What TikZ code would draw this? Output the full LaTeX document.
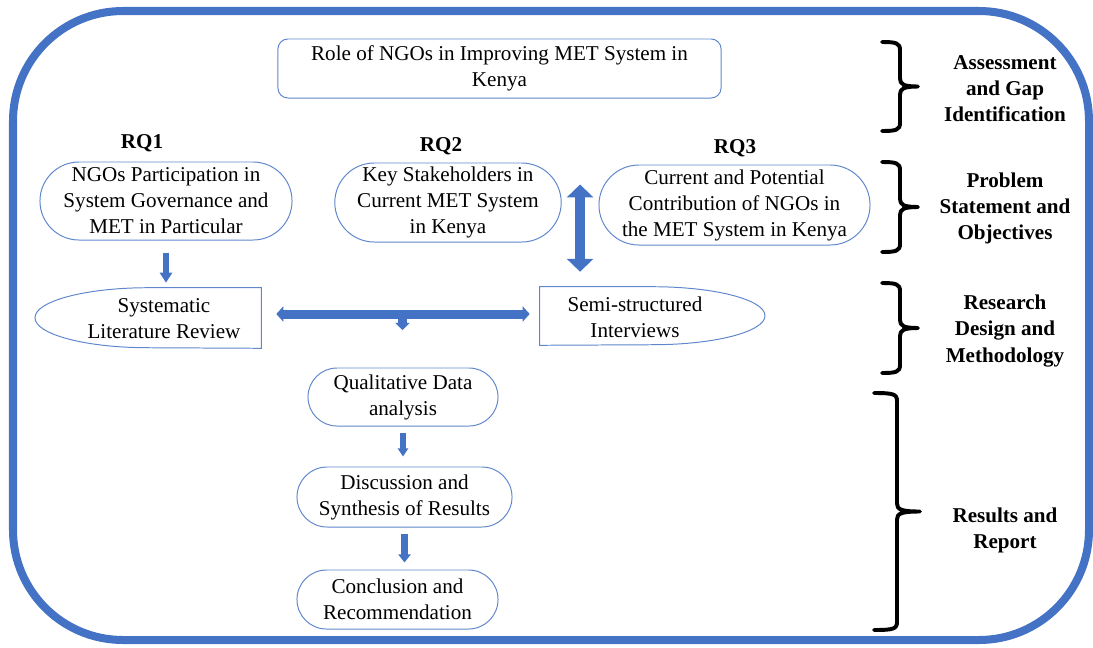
\documentclass[tikz,border=0pt]{standalone}
\usepackage{fontspec}
\setmainfont{Liberation Serif}
\usetikzlibrary{shapes.misc,arrows.meta,calc}
\definecolor{frame blue}{RGB}{68,114,196}
\colorlet{box edge}{frame blue!85}
\colorlet{arrow fill}{frame blue}
\newcommand{\boxfont}{\fontsize{15}{18.5}\selectfont}
% brace: end x, top, bottom, half width
\newcommand{\phasebrace}[4]{%
  \draw[phase line] (#1,#2) .. controls ({#1+#4-4},#2) and ({#1+#4},{#2+1}) .. ({#1+#4},{#2+8})
    -- ({#1+#4},{(#2+#3)/2-8}) .. controls ({#1+#4},{(#2+#3)/2-2}) and ({#1+#4+4},{(#2+#3)/2}) .. ({#1+2*#4},{(#2+#3)/2})
    .. controls ({#1+#4+4},{(#2+#3)/2}) and ({#1+#4},{(#2+#3)/2+2}) .. ({#1+#4},{(#2+#3)/2+8})
    -- ({#1+#4},{#3-8}) .. controls ({#1+#4},{#3-1}) and ({#1+#4-4},#3) .. (#1,#3);}
\tikzset{stadium/.style={rounded rectangle, draw=box edge, line width=0.7pt, inner sep=0pt, align=center, font=\boxfont},
	title box/.style={draw=box edge, line width=0.7pt, rounded corners=0.25cm, inner sep=0pt, align=center, font=\boxfont},
	plain text/.style={inner sep=0pt, align=center, font=\boxfont},
	rq/.style={inner sep=0pt, font=\boxfont\bfseries},
	phase/.style={inner sep=0pt, align=center, font=\boxfont\bfseries},
	phase line/.style={line width=2.8pt, line cap=round, line join=round},
	edge line/.style={draw=box edge, line width=0.7pt},
	outer frame/.style={draw=frame blue, line width=5.7pt, rounded corners=2.75cm},
	oneway/.style n args={3}{draw=arrow fill, line width=#1, -{Triangle[width=#2,length=#3]}},
	twoway/.style n args={3}{draw=arrow fill, line width=#1, {Triangle[width=#2,length=#3]}-{Triangle[width=#2,length=#3]}}}

\begin{document}
\begin{tikzpicture}[x=0.025cm,y=-0.025cm]
	\useasboundingbox (0,0) rectangle (1093,647);
	\draw[outer frame] (13,11) rectangle (1089,640);
	
	\node[title box, minimum width=11.075cm, minimum height=1.475cm] (title) at (499.5,68.5) {Role of NGOs in Improving MET System in\\Kenya};
	
	% research questions
	\node[rq] (rq1) at (142,143) {RQ1};
	\node[rq] (rq2) at (441,146) {RQ2};
	\node[rq] (rq3) at (735,148) {RQ3};
	\node[stadium, minimum width=6.3cm, minimum height=1.95cm] (box1) at (166,201) {NGOs Participation in\\System Governance and\\MET in Particular};
	\node[stadium, minimum width=5.5cm, minimum height=1.975cm] (box2) at (448,202.5) {Key Stakeholders in\\Current MET System\\in Kenya};
	\node[stadium, minimum width=6.775cm, minimum height=2cm] (box3) at (734.5,205) {Current and Potential\\Contribution of NGOs in\\the MET System in Kenya};
	
	% methods
	\node[inner sep=0pt, minimum width=5.65cm, minimum height=1.5cm] (litbox) at (148,318) {};
	\draw[edge line] (litbox.north east) -- (litbox.north) arc[start angle=90, end angle=270, x radius=2.825cm, y radius=0.75cm] -- (litbox.south east) -- cycle;
	\node[plain text] (lit) at (164,319) {Systematic\\Literature Review};
	\node[inner sep=0pt, minimum width=5.625cm, minimum height=1.45cm] (semibox) at (652.5,316) {};
	\draw[edge line] (semibox.north west) -- (semibox.north) arc[start angle=90, end angle=-90, x radius=2.8125cm, y radius=0.725cm] -- (semibox.south west) -- cycle;
	\node[plain text] (semi) at (635,317) {Semi-structured\\Interviews};
	
	% results
	\node[stadium, minimum width=4.75cm, minimum height=1.45cm] (qual) at (403,397) {Qualitative Data\\analysis};
	\node[stadium, minimum width=5.375cm, minimum height=1.5cm] (disc) at (404.5,497) {Discussion and\\Synthesis of Results};
	\node[stadium, minimum width=5.025cm, minimum height=1.475cm] (conc) at (397.5,599.5) {Conclusion and\\Recommendation};
	
	% arrows
	\draw[oneway={4.3pt}{8.5pt}{7.1pt}] ($(box1.south)+(0,12)$) -- ($(box1.south |- litbox.north)+(0,-5)$);
	\coordinate (vsplit) at ($(box2.east)!0.5!(box3.west)$);
	\draw[twoway={7.1pt}{18.5pt}{9.2pt}] ($(vsplit |- box2.north)+(0,22)$) -- ($(vsplit |- semibox.north)+(0,-15)$);
	\coordinate (split) at ($(litbox.east)!0.5!(litbox.east -| semibox.west)+(2,-4)$);
	\draw[oneway={7.1pt}{10pt}{5pt}] (split) -- ($(split)+(0,16)$);
	\draw[twoway={6.4pt}{10.7pt}{5pt}] ($(litbox.east)+(15,-4)$) -- ($(litbox.east -| semibox.west)+(-10,-4)$);
	\draw[oneway={3.6pt}{7.1pt}{5.7pt}] ($(qual.south)+(0,6)$) -- ($(qual.south |- disc.north)+(0,-10)$);
	\draw[oneway={5pt}{8.5pt}{5.7pt}] ($(disc.south)+(0,6)$) -- ($(disc.south |- conc.north)+(0,-7)$);
	
	% phases
	\phasebrace{882}{42}{131}{18}
	\phasebrace{882}{162}{252}{18}
	\phasebrace{882}{283}{373}{18}
	\phasebrace{874}{393}{630}{23}
	\node[phase] (assess) at (1005,89) {Assessment\\and Gap\\Identification};
	\node[phase] (problem) at (1005,208) {Problem\\Statement and\\Objectives};
	\node[phase] (design) at (1005,331) {Research\\Design and\\Methodology};
	\node[phase] (report) at (1005,530) {Results and\\Report};
\end{tikzpicture}
\end{document}
